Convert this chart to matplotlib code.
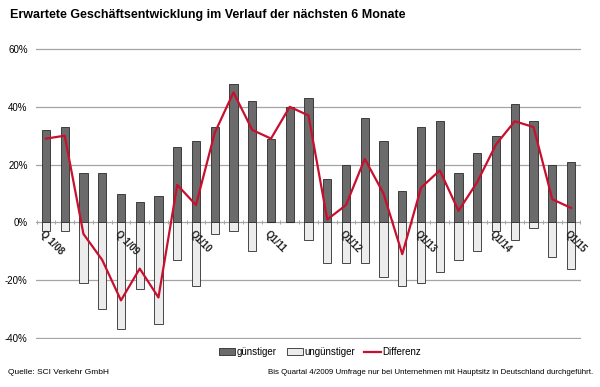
import numpy as np
import matplotlib
matplotlib.use("Agg")
import matplotlib.pyplot as plt
from matplotlib.patches import Patch
from matplotlib.lines import Line2D

plt.rcParams['font.family'] = ['Liberation Sans', 'DejaVu Sans']

# Data (percent), quarterly Q1/08 .. Q1/15
quarters = ['Q 1/08', '', '', '', 'Q 1/09', '', '', '', 'Q1/10', '', '', '',
            'Q1/11', '', '', '', 'Q1/12', '', '', '', 'Q1/13', '', '', '',
            'Q1/14', '', '', '', 'Q1/15']
guenstig = [32, 33, 17, 17, 10, 7, 9, 26, 28, 33, 48, 42, 29, 40, 43,
            15, 20, 36, 28, 11, 33, 35, 17, 24, 30, 41, 35, 20, 21]
unguenstig = [-3, -3, -21, -30, -37, -23, -35, -13, -22, -4, -3, -10, 0, 0, -6,
              -14, -14, -14, -19, -22, -21, -17, -13, -10, -3, -6, -2, -12, -16]
differenz = [29, 30, -4, -13, -27, -16, -26, 13, 6, 31, 45, 32, 29, 40, 37,
             1, 6, 22, 10, -11, 12, 18, 4, 14, 27, 35, 33, 8, 5]
yticks = [-40, -20, 0, 20, 40, 60]

x = np.arange(len(guenstig))

fig = plt.figure(figsize=(6.0, 3.87), dpi=100)
# axes: x from 36px to 581px, y from 47.6px to 339.4px
ax = fig.add_axes([36/600, 1-339.4/387, (581-36)/600, (339.4-47.6)/387])

for v in yticks:
    if v != 0:
        ax.axhline(v, color='#a5a5a5', lw=0.9, zorder=0)

w = 0.44
ax.bar(x, guenstig, width=w, color='#6b6b6b', edgecolor='#2a2a2a', lw=0.6, zorder=2)
ax.bar(x, unguenstig, width=w, color='#ececec', edgecolor='#2a2a2a', lw=0.6, zorder=2)
ax.axhline(0, color='#a5a5a5', lw=0.9, zorder=1)
ax.plot(x, differenz, color='#c8102e', lw=1.6, zorder=3)

# small ticks on the zero line between categories
ax.spines['bottom'].set_position(('data', 0))
ax.set_xticks(np.arange(-0.5, len(x), 1.0))
ax.set_xticklabels([])
ax.tick_params(axis='x', direction='inout', length=3, width=0.7, color='#a5a5a5')
for s in ['top', 'right', 'left', 'bottom']:
    ax.spines[s].set_visible(False)

ax.set_xlim(-0.53, len(x) - 0.47)
ax.set_ylim(-40.5, 60.5)
ax.set_yticks(yticks)
ax.set_yticklabels([f'{v}%' for v in yticks], fontsize=7)
ax.tick_params(axis='y', length=0, pad=6)

for i, lab in enumerate(quarters):
    if lab:
        ax.text(i - 0.05, -2.2, lab, rotation=-45, rotation_mode='anchor',
                ha='left', va='top', fontsize=7, fontweight='bold', color='#222222')

fig.text(10/600, 1-15/387, 'Erwartete Geschäftsentwicklung im Verlauf der nächsten 6 Monate',
         fontsize=9, fontweight='bold', va='center', ha='left')

handles = [Patch(facecolor='#6b6b6b', edgecolor='#2a2a2a', lw=0.6),
           Patch(facecolor='#ececec', edgecolor='#2a2a2a', lw=0.6),
           Line2D([0], [0], color='#c8102e', lw=1.6)]
fig.legend(handles, ['günstiger', 'ungünstiger', 'Differenz'], loc='center',
           bbox_to_anchor=(320/600, 1-352/387), ncol=3, frameon=False, fontsize=7,
           handlelength=1.65, handleheight=0.7, handletextpad=0.15, columnspacing=1.0)

fig.text(8/600, 1-372/387, 'Quelle: SCI Verkehr GmbH', fontsize=6, va='center', ha='left')
fig.text(593/600, 1-372/387,
         'Bis Quartal 4/2009 Umfrage nur bei Unternehmen mit Hauptsitz in Deutschland durchgeführt.',
         fontsize=5.7, va='center', ha='right')

fig.savefig('out.png', dpi=100)
